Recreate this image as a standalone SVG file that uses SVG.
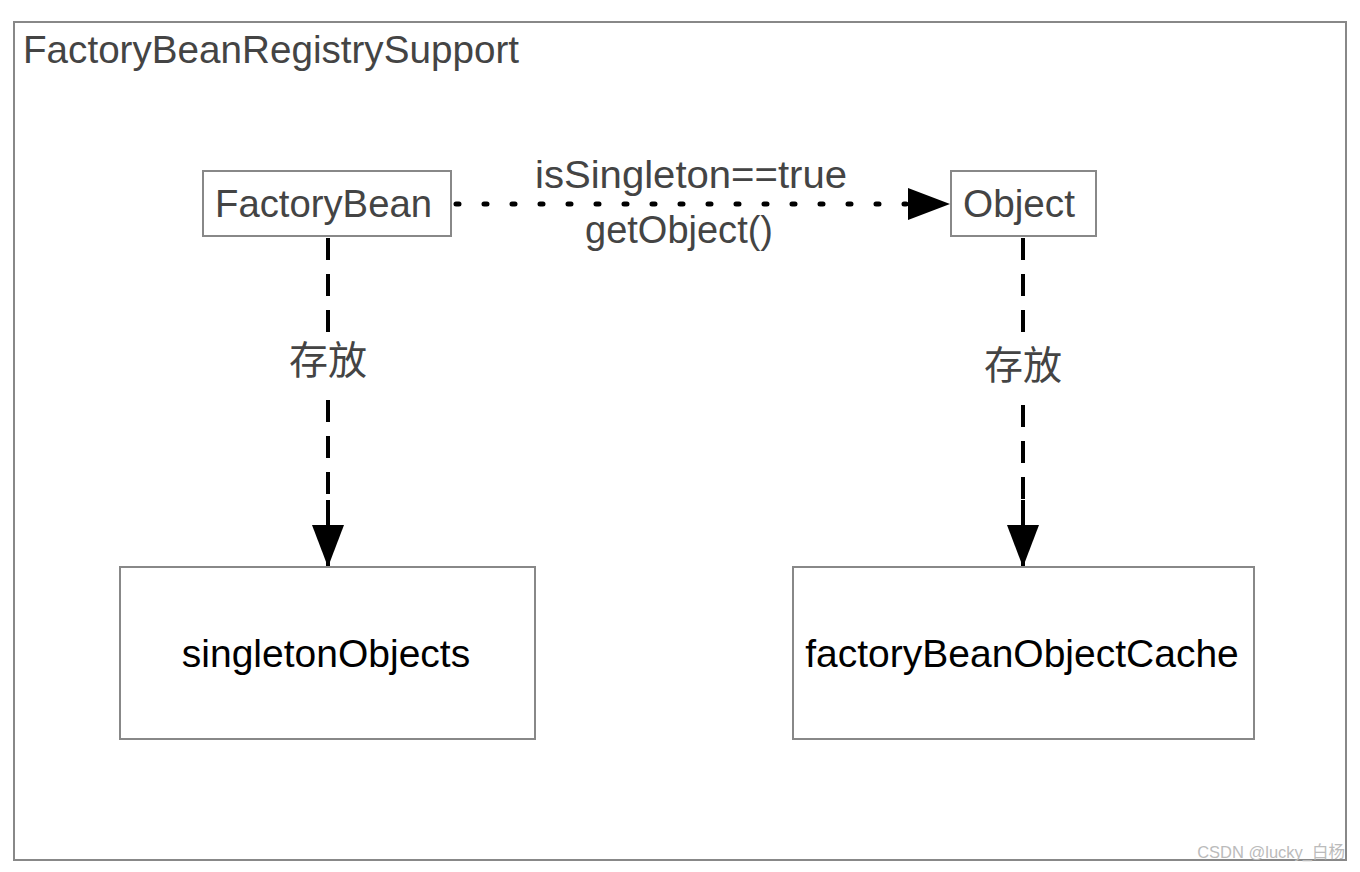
<svg xmlns="http://www.w3.org/2000/svg" width="1360" height="872" viewBox="0 0 1360 872">
<style>
.box{fill:#fff;stroke:#888;stroke-width:2}
.lbl{font-family:"Liberation Sans","Noto Sans CJK SC",sans-serif;fill:#444;font-size:39px}
.big{font-family:"Liberation Sans","Noto Sans CJK SC",sans-serif;fill:#000;font-size:39px;text-anchor:middle}
.dot{stroke:#000;stroke-width:5;stroke-linecap:round;stroke-dasharray:3 25;fill:none}
.dash{stroke:#000;stroke-width:4;fill:none;stroke-dasharray:22 14}
</style>
<defs>
<marker id="ah" markerUnits="userSpaceOnUse" markerWidth="44" markerHeight="32" refX="42" refY="16" orient="auto">
<path d="M0,0 L42,16 L0,32 Z" fill="#000"/>
</marker>
</defs>
<rect width="1360" height="872" fill="#fff"/>
<g id="container">
<rect class="box" x="14" y="22" width="1332" height="838"/>
<text class="lbl" x="23" y="63" font-size="41" textLength="496" lengthAdjust="spacingAndGlyphs">FactoryBeanRegistrySupport</text>
</g>
<g id="connectors">
<line class="dot" x1="456" y1="204" x2="906" y2="204"/>
<line x1="880" y1="204" x2="950" y2="204" stroke="none" marker-end="url(#ah)"/>
<line class="dash" x1="328" y1="238" x2="328" y2="335"/>
<line class="dash" x1="328" y1="400" x2="328" y2="530"/>
<line x1="328" y1="500" x2="328" y2="567" stroke="#000" stroke-width="4" marker-end="url(#ah)"/>
<line class="dash" x1="1023" y1="238" x2="1023" y2="335"/>
<line class="dash" x1="1023" y1="405" x2="1023" y2="530"/>
<line x1="1023" y1="500" x2="1023" y2="567" stroke="#000" stroke-width="4" marker-end="url(#ah)"/>
<text class="lbl" x="535" y="188" textLength="312" lengthAdjust="spacingAndGlyphs">isSingleton==true</text>
<text class="lbl" x="585" y="243" textLength="188" lengthAdjust="spacingAndGlyphs">getObject()</text>
<text class="lbl" x="328" y="374" text-anchor="middle" font-size="36">存放</text>
<text class="lbl" x="1023" y="379" text-anchor="middle" font-size="36">存放</text>
</g>
<g id="factoryBean">
<rect class="box" x="203" y="171" width="248" height="65"/>
<text class="lbl" x="215" y="217" textLength="217" lengthAdjust="spacingAndGlyphs">FactoryBean</text>
</g>
<g id="object">
<rect class="box" x="951" y="171" width="145" height="65"/>
<text class="lbl" x="963" y="217" textLength="112" lengthAdjust="spacingAndGlyphs">Object</text>
</g>
<g id="singletonObjects">
<rect class="box" x="120" y="567" width="415" height="172"/>
<text class="big" x="326" y="667">singletonObjects</text>
</g>
<g id="factoryBeanObjectCache">
<rect class="box" x="793" y="567" width="461" height="172"/>
<text class="big" x="1022" y="667">factoryBeanObjectCache</text>
</g>
<text x="1345" y="858" text-anchor="end" font-family="Liberation Sans,'Noto Sans CJK SC',sans-serif" font-size="16.5" fill="#bbb">CSDN @lucky_白杨</text>
</svg>
